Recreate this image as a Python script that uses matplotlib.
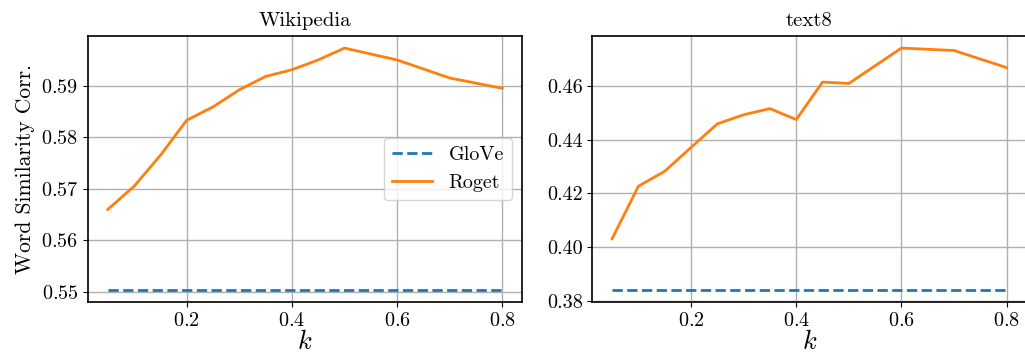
import numpy as np
import matplotlib
matplotlib.use("Agg")
import matplotlib.pyplot as plt

plt.rcParams["font.family"] = "serif"
plt.rcParams["font.serif"] = ["cmr10", "DejaVu Serif"]
plt.rcParams["mathtext.fontset"] = "cm"
plt.rcParams["axes.formatter.use_mathtext"] = True
plt.rcParams["axes.unicode_minus"] = False

# fraction k
k = [0.05, 0.1, 0.15, 0.2, 0.25, 0.3, 0.35, 0.4, 0.45, 0.5, 0.6, 0.7, 0.8]

# word similarity correlation on each corpus
wiki_glove = 0.5504
wiki_roget = [0.5660, 0.5705, 0.5765, 0.5833, 0.5859, 0.5892, 0.5918,
              0.5931, 0.5950, 0.5973, 0.5950, 0.5915, 0.5895]
text8_glove = 0.3840
text8_roget = [0.4031, 0.4227, 0.4283, 0.4372, 0.4460, 0.4494, 0.4517,
               0.4476, 0.4616, 0.4611, 0.4743, 0.4734, 0.4670]

fig = plt.figure(figsize=(10.25, 3.56), dpi=100)
ax1 = fig.add_axes([0.0859, 0.1517, 0.4234, 0.7472])
ax2 = fig.add_axes([0.5779, 0.1517, 0.4235, 0.7472])

for ax, glove, roget, name in [(ax1, wiki_glove, wiki_roget, "Wikipedia"),
                               (ax2, text8_glove, text8_roget, "text8")]:
    ax.plot(k, [glove] * len(k), "--", color="tab:blue", lw=2, label="GloVe")
    ax.plot(k, roget, "-", color="tab:orange", lw=2, label="Roget")
    ax.set_title(name, fontsize=15, pad=7)
    ax.set_xlabel("$k$", fontsize=19, labelpad=0)
    ax.set_xticks([0.2, 0.4, 0.6, 0.8])
    ax.grid(True, color="#b0b0b0", lw=1)
    ax.tick_params(labelsize=14.5)
    for s in ax.spines.values():
        s.set_linewidth(1.2)

ax1.set_ylabel("Word Similarity Corr.", fontsize=15.5)
ax1.set_yticks([0.55, 0.56, 0.57, 0.58, 0.59])
ax2.set_yticks([0.38, 0.40, 0.42, 0.44, 0.46])
ax2.yaxis.set_major_formatter(matplotlib.ticker.FormatStrFormatter("%.2f"))
ax1.legend(loc="center right", fontsize=14.5)

fig.savefig("out.png", dpi=100)
